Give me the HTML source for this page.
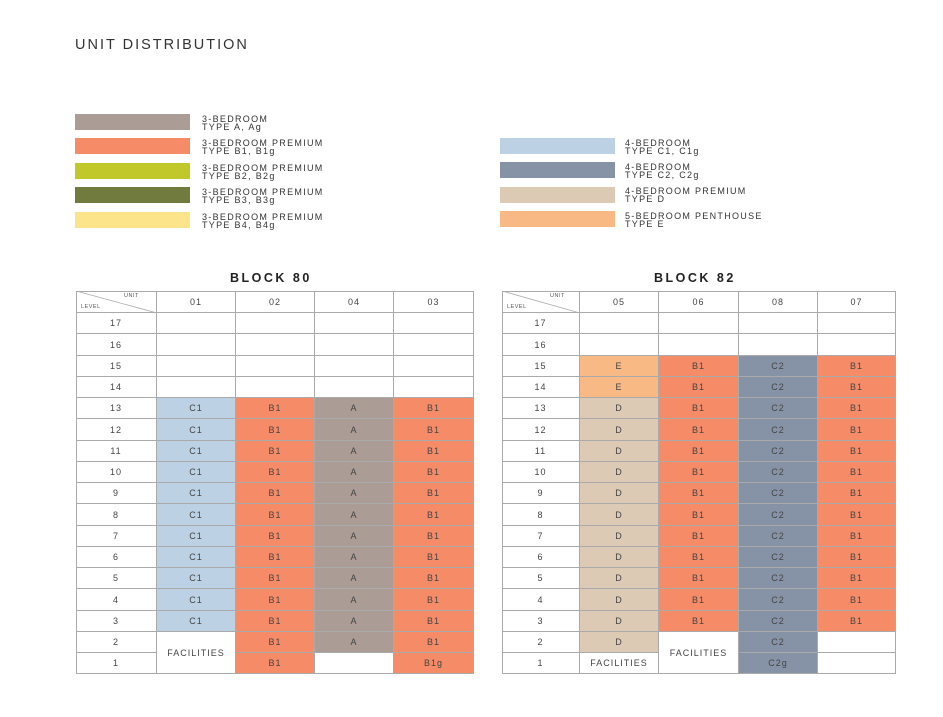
<!DOCTYPE html>
<html><head><meta charset="utf-8"><style>
body{margin:0;width:943px;height:717px;background:#fff;position:relative;overflow:hidden;font-family:"Liberation Sans",sans-serif;}
.a{position:absolute;}
.sw{position:absolute;width:115px;height:16px;}
.lt{position:absolute;font-size:9px;line-height:8px;letter-spacing:1.3px;color:#333;}
.c{position:absolute;box-sizing:border-box;border-right:1px solid #aaa;border-bottom:1px solid #aaa;display:flex;align-items:center;justify-content:center;font-size:9px;letter-spacing:1px;color:#444;}
.t{position:absolute;font-size:12.5px;letter-spacing:2.5px;color:#222;font-weight:bold;}
</style></head><body>
<div class="a" style="left:75px;top:37px;font-size:14.5px;letter-spacing:2px;color:#333;">UNIT DISTRIBUTION</div>

<div class="sw" style="left:75px;top:114px;background:#ab9c95"></div>
<div class="lt" style="left:202px;top:115px">3-BEDROOM<br>TYPE A, Ag</div>
<div class="sw" style="left:75px;top:138px;background:#f68b68"></div>
<div class="lt" style="left:202px;top:139px">3-BEDROOM PREMIUM<br>TYPE B1, B1g</div>
<div class="sw" style="left:75px;top:163px;background:#c1c92a"></div>
<div class="lt" style="left:202px;top:164px">3-BEDROOM PREMIUM<br>TYPE B2, B2g</div>
<div class="sw" style="left:75px;top:187px;background:#727b3e"></div>
<div class="lt" style="left:202px;top:188px">3-BEDROOM PREMIUM<br>TYPE B3, B3g</div>
<div class="sw" style="left:75px;top:212px;background:#fbe48a"></div>
<div class="lt" style="left:202px;top:213px">3-BEDROOM PREMIUM<br>TYPE B4, B4g</div>

<div class="sw" style="left:500px;top:138px;background:#bcd2e4"></div>
<div class="lt" style="left:625px;top:139px">4-BEDROOM<br>TYPE C1, C1g</div>
<div class="sw" style="left:500px;top:162px;background:#8693a6"></div>
<div class="lt" style="left:625px;top:163px">4-BEDROOM<br>TYPE C2, C2g</div>
<div class="sw" style="left:500px;top:187px;background:#dccab5"></div>
<div class="lt" style="left:625px;top:187px">4-BEDROOM PREMIUM<br>TYPE D</div>
<div class="sw" style="left:500px;top:211px;background:#f9b985"></div>
<div class="lt" style="left:625px;top:212px">5-BEDROOM PENTHOUSE<br>TYPE E</div>

<div class="t" style="left:230px;top:271px">BLOCK 80</div>
<div class="t" style="left:654px;top:271px">BLOCK 82</div>
<div id="g"></div>
<script>
var C={A:'#ab9c95',B1:'#f68b68',B1g:'#f68b68',C1:'#bcd2e4',C2:'#8693a6',C2g:'#8693a6',D:'#dccab5',E:'#f9b985',F:'#fff','':'#fff'};
var h='';
function rowY(L){return 313+(17-L)*21.25;}
function cell(x,y,w,hh,txt,bg,extra){h+='<div class="c" style="left:'+x+'px;top:'+y+'px;width:'+w+'px;height:'+hh+'px;background:'+bg+';'+(extra||'')+'">'+txt+'</div>';}
function block(x0,cols,heads,cells){
  var xs=[x0].concat(cols);
  cell(xs[0],291,xs[1]-xs[0],22,'','#fff');
  h+='<div class="a" style="left:'+(xs[0]+48)+'px;top:293px;font-size:5.5px;color:#555;letter-spacing:.5px">UNIT</div><div class="a" style="left:'+(xs[0]+5)+'px;top:304px;font-size:5.5px;color:#555;letter-spacing:.5px">LEVEL</div>';
  h+='<svg class="a" style="left:'+xs[0]+'px;top:291px" width="'+(xs[1]-xs[0])+'" height="22"><line x1="0" y1="0" x2="'+(xs[1]-xs[0])+'" y2="22" stroke="#aaa" stroke-width="0.8"/></svg>';
  for(var i=0;i<4;i++)cell(xs[i+1],291,xs[i+2]-xs[i+1],22,heads[i],'#fff');
  for(var L=17;L>=1;L--){var y=Math.round(rowY(L)),y2=Math.round(rowY(L-1));cell(xs[0],y,xs[1]-xs[0],y2-y,''+L,'#fff');}
  cells.forEach(function(c){
    var ci=c[0];
    if(c[5]){var y=Math.round(rowY(c[1])),y2=Math.round(rowY(c[2]-1));cell(xs[ci+1],y,xs[ci+2]-xs[ci+1],y2-y,c[3],C[c[4]]);}
    else for(var L=c[1];L>=c[2];L--){var y=Math.round(rowY(L)),y2=Math.round(rowY(L-1));cell(xs[ci+1],y,xs[ci+2]-xs[ci+1],y2-y,c[3],C[c[4]]);}
  });
  h+='<div class="a" style="left:'+x0+'px;top:291px;width:'+(cols[cols.length-1]-x0)+'px;height:383px;border-left:1px solid #aaa;border-top:1px solid #aaa;box-sizing:border-box;pointer-events:none"></div>';
}
block(76,[157,236,315,394,474],['01','02','04','03'],[
 [0,17,14,'',''],[1,17,14,'',''],[2,17,14,'',''],[3,17,14,'',''],
 [0,13,3,'C1','C1'],[0,2,1,'FACILITIES','F',1],
 [1,13,1,'B1','B1'],
 [2,13,2,'A','A'],[2,1,1,'',''],
 [3,13,2,'B1','B1'],[3,1,1,'B1g','B1g']
]);
block(502,[580,659,739,818,896],['05','06','08','07'],[
 [0,17,16,'',''],[1,17,16,'',''],[2,17,16,'',''],[3,17,16,'',''],
 [0,15,14,'E','E'],[0,13,2,'D','D'],[0,1,1,'FACILITIES','F'],
 [1,15,3,'B1','B1'],[1,2,1,'FACILITIES','F',1],
 [2,15,2,'C2','C2'],[2,1,1,'C2g','C2g'],
 [3,15,3,'B1','B1'],[3,2,1,'','']
]);
document.getElementById('g').innerHTML=h;
</script>
</body></html>
